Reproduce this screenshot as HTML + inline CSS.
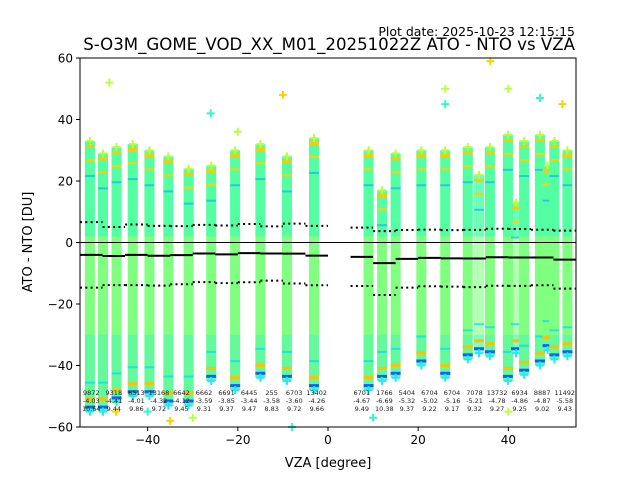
<!DOCTYPE html>
<html><head><meta charset="utf-8"><style>
body{margin:0;background:#fff}
svg{display:block;font-family:"DejaVu Sans","Liberation Sans",sans-serif}
</style></head><body>
<svg id="chart" width="640" height="480" viewBox="0 0 640 480" xmlns="http://www.w3.org/2000/svg">
<text x="575" y="36" font-size="12.5" text-anchor="end" fill="#000">Plot date: 2025-10-23 12:15:15</text>
<text x="575" y="50" font-size="16.6" text-anchor="end" fill="#000">S-O3M_GOME_VOD_XX_M01_20251022Z ATO - NTO vs VZA</text>
<text x="328" y="467" font-size="13" text-anchor="middle">VZA [degree]</text>
<text x="32" y="242" font-size="13" text-anchor="middle" transform="rotate(-90 32 242)">ATO - NTO [DU]</text>
<g id="marks"></g>
<g id="axes"></g>
</svg>
<script>
const colVza=[-52.8,-49.9,-46.9,-43.3,-39.6,-35.4,-30.9,-25.9,-20.6,-15.0,-9.1,-3.1,9.0,12.0,15.0,20.7,26.0,31.0,33.5,35.9,39.9,41.7,43.5,47.0,48.7,50.2,53.1];
const colTop=[33,29,31,32,30,28,24,25,30,32,28,34,30,17,29,30,30,31,22,31,35,13,33,35,25,33,30];
const colBot=[-55,-55,-52,-50,-50,-53,-53,-45,-48,-44,-45,-48,-48,-45,-44,-40,-44,-38,-36,-37,-45,-36,-43,-40,-35,-38,-37];
const outX=[-48.5,-26,-10,26,26,36,40,10,-35,-30,-40,-47,40,47,52,-20,-8];
const outY=[52,42,48,50,45,59,50,-57,-58,-57,-55,-55,-55,47,45,36,-60];
const binLo=[-55,-50,-45,-40,-35,-30,-25,-20,-15,-10,-5,5,10,15,20,25,30,35,40,45,50];
const counts=["9872","9318","6513","13168","6642","6662","6691","6445","255","6703","13402","6701","1766","5404","6704","6704","7078","13732","6934","8887","11492"];
const means=[-4.03,-4.41,-4.01,-4.32,-4.12,-3.59,-3.85,-3.44,-3.58,-3.60,-4.26,-4.67,-6.69,-5.32,-5.02,-5.16,-5.21,-4.78,-4.86,-4.87,-5.58];
const stds=[10.64,9.44,9.86,9.72,9.45,9.31,9.37,9.47,8.83,9.72,9.66,9.49,10.38,9.37,9.22,9.17,9.32,9.27,9.25,9.02,9.43];
const xTicks=[-40,-20,0,20,40];
const yTicks=[-60,-40,-20,0,20,40,60];

const L=80,R=576,T=58,B=427,X0=-55,X1=55,Y0=-60,Y1=60;
const sx=v=>L+(v-X0)/(X1-X0)*(R-L);
const sy=v=>B-(v-Y0)/(Y1-Y0)*(B-T);
const NS="http://www.w3.org/2000/svg";
const marks=document.getElementById('marks'),axes=document.getElementById('axes');
function mk(tag,at,par){const e=document.createElementNS(NS,tag);for(const k in at)e.setAttribute(k,at[k]);par.appendChild(e);return e;}
function plus(x,y,c,g){
  return mk('path',{d:`M${x-4} ${y}H${x+4}M${x} ${y-4}V${y+4}`,stroke:c,'stroke-width':2},g);
}
colVza.forEach((v,i)=>{
  const x=sx(v),yt=sy(colTop[i]),yb=sy(colBot[i]);
  const g=mk('g',{},marks);
  
  
  const sparse=(colTop[i]-colBot[i])<60;
  mk('rect',{x:x-5,y:yt,width:10,height:yb-yt,fill:'#80ff80',opacity:sparse?0.6:1},g);
  const ym=sy(Math.min(colTop[i],2));
  mk('rect',{x:x-5,y:yt,width:10,height:Math.max(0,ym-yt),fill:'#30ffc0',opacity:0.55},g);
  const yl=sy(-30);
  mk('rect',{x:x-5,y:yl,width:10,height:Math.max(0,yb-yl),fill:'#30f0d0',opacity:0.35},g);
  mk('rect',{x:x-5,y:yt+4,width:10,height:3,fill:'#ffc800'},g);
  mk('rect',{x:x-5,y:yt+18,width:10,height:2,fill:'#ffd000'},g);
  mk('rect',{x:x-5,y:yt+34,width:10,height:2,fill:'#00a8ff',opacity:0.6},g);
  mk('rect',{x:x-5,y:yb-30,width:10,height:2,fill:'#00d8ff',opacity:0.7},g);
  mk('rect',{x:x-5,y:yb-14,width:10,height:3,fill:'#ffc000'},g);
  mk('rect',{x:x-5,y:yb-6,width:10,height:3,fill:'#1060ff'},g);
  plus(x,yt,'#b8ff40',g);plus(x,yb,'#20e8ff',g);
});
outX.forEach((v,i)=>{
  const p=plus(sx(v),sy(outY[i]),i%3==0?'#b8ff40':(i%3==1?'#30f8c8':'#ffd000'),marks);
  
  
});
const z=mk('line',{x1:L,x2:R,y1:sy(0),y2:sy(0),stroke:'#000','stroke-width':1},axes);


binLo.forEach((lo,i)=>{
  const x1=sx(lo),x2=sx(lo+5);
  const m=mk('line',{x1,x2,y1:sy(means[i]),y2:sy(means[i]),stroke:'#000','stroke-width':2},axes);
  
  
  [means[i]+stds[i],means[i]-stds[i]].forEach(v=>{
    const d=mk('line',{x1,x2,y1:sy(v),y2:sy(v),stroke:'#000','stroke-width':2,'stroke-dasharray':'2 3.3'},axes);
    
    
  });
  const xc=(x1+x2)/2;
  [counts[i],means[i].toFixed(2),stds[i].toFixed(2)].forEach((s,j)=>{
    const t=mk('text',{x:xc,y:395+j*8,'font-size':6.5,'text-anchor':'middle',fill:'#222'},axes);
    t.textContent=s;
    
    
  });
});
const frame=mk('rect',{x:L,y:T,width:R-L,height:B-T,fill:'none',stroke:'#000','stroke-width':1},axes);


xTicks.forEach(v=>{
  mk('line',{x1:sx(v),x2:sx(v),y1:B,y2:B+4,stroke:'#000'},axes);
  const t=mk('text',{x:sx(v),y:B+17,'font-size':12,'text-anchor':'middle'},axes);
  t.textContent=v<0?'\u2212'+(-v):v;
  
  
});
yTicks.forEach(v=>{
  mk('line',{x1:L-4,x2:L,y1:sy(v),y2:sy(v),stroke:'#000'},axes);
  const t=mk('text',{x:L-7,y:sy(v)+4.5,'font-size':12,'text-anchor':'end'},axes);
  t.textContent=v<0?'\u2212'+(-v):v;
  
  
});
</script>
</body></html>
